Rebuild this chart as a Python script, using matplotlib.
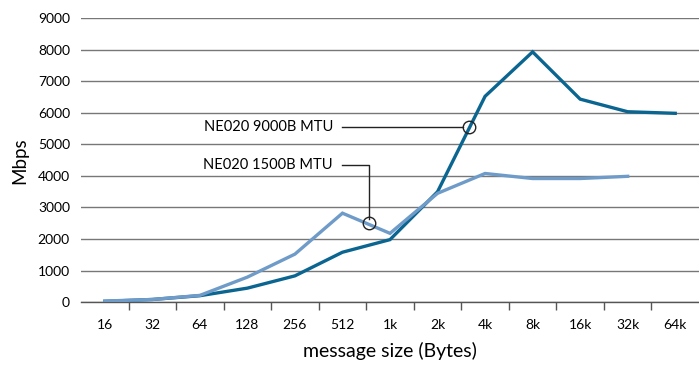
import matplotlib
matplotlib.use('Agg')
import matplotlib.pyplot as plt
import numpy as np

# tailles de message (Bytes) et débits mesurés (Mbps)
tailles = ['16', '32', '64', '128', '256', '512', '1k', '2k', '4k', '8k', '16k', '32k', '64k']
mtu_9000 = [20, 80, 200, 440, 830, 1580, 1980, 3500, 6530, 7940, 6440, 6040, 5990]
mtu_1500 = [30, 80, 210, 790, 1520, 2820, 2180, 3450, 4080, 3920, 3920, 3990]

# points annotés (position en catégorie, valeur)
annot_9000 = (7.66, 5540)
annot_1500 = (5.56, 2500)

plt.rcParams['font.family'] = ['Lato', 'DejaVu Sans']

fig = plt.figure(figsize=(6.99, 3.67), dpi=100)
ax = fig.add_axes([81/699, 65/367, 618/699, 283.5/367])

x9 = np.arange(len(mtu_9000))
x15 = np.arange(len(mtu_1500))
ax.plot(x9, mtu_9000, color='#0b6591', lw=2.4, solid_joinstyle='miter', zorder=3)
ax.plot(x15, mtu_1500, color='#6f9bc9', lw=2.4, solid_joinstyle='miter', zorder=4)

ax.set_xlim(-0.5, len(tailles) - 0.5)
ax.set_ylim(0, 9000)
ax.set_yticks(range(0, 9001, 1000))
ax.set_xticks(range(len(tailles)))
ax.set_xticklabels(tailles)
ax.set_xticks(np.arange(0.5, len(tailles) - 1, 1), minor=True)
ax.tick_params(axis='x', which='major', length=0, pad=12, labelsize=10)
ax.tick_params(axis='x', which='minor', length=6, width=1, color='#555555', direction='out')
ax.tick_params(axis='y', length=0, pad=8, labelsize=10)

ax.grid(axis='y', color='#777777', lw=1)
ax.set_axisbelow(True)
for s in ['top', 'right', 'left']:
    ax.spines[s].set_visible(False)
ax.spines['bottom'].set_color('#555555')
ax.spines['bottom'].set_linewidth(1)

ax.set_ylabel('Mbps', fontsize=13.5, labelpad=7)
ax.set_xlabel('message size (Bytes)', fontsize=14, labelpad=8)

# annotations
ax.plot(*annot_9000, 'o', ms=9, mfc='none', mec='#222222', mew=1, zorder=6)
ax.plot([5.0, annot_9000[0] - 0.12], [annot_9000[1], annot_9000[1]], color='#222222', lw=1, zorder=5)
ax.text(4.8, annot_9000[1], 'NE020 9000B MTU', ha='right', va='center', fontsize=10.5)

ax.plot(*annot_1500, 'o', ms=9, mfc='none', mec='#222222', mew=1, zorder=6)
ax.plot([5.0, annot_1500[0], annot_1500[0]], [4350, 4350, annot_1500[1] + 140], color='#222222', lw=1, zorder=5)
ax.text(4.8, 4350, 'NE020 1500B MTU', ha='right', va='center', fontsize=10.5)

fig.savefig('out.png', dpi=100)
